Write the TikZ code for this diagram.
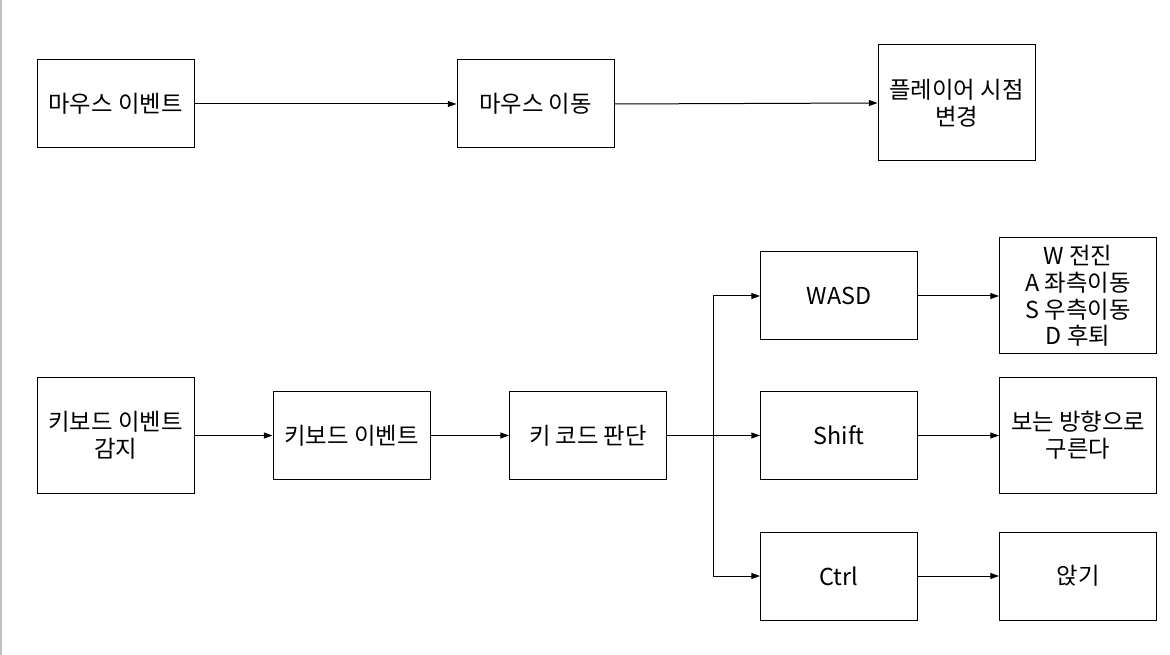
\documentclass[tikz,border=0pt]{standalone}
\usepackage{fontspec}
\setmainfont{Noto Sans CJK KR}
\usetikzlibrary{arrows.meta}
\tikzset{
  box/.style={draw, line width=0.75pt, minimum width=117.75pt, minimum height=66pt, align=center, inner sep=0pt, font=\fontsize{17.5pt}{20pt}\selectfont},
  tallbox/.style={box, minimum height=87pt},
  arr/.style={line width=0.75pt, -{Triangle[length=6.5pt,width=4.5pt]}}
}
\begin{document}
\begin{tikzpicture}[x=0.75pt,y=-0.75pt]
\useasboundingbox (0,0) rectangle (1170,655);
\draw[black!25, line width=1.5pt] (0.5,0) -- (0.5,655);
% top row
\node[box] (me) at (115.5,104) {마우스 이벤트};
\node[box] (mm) at (535.5,104) {마우스 이동};
\node[tallbox] (pv) at (956.5,103) {플레이어 시점\\변경};
\draw[arr] (me.east) -- (mm.west);
\draw[arr] (mm.east) -- (pv.west);
% bottom row
\node[tallbox] (kd) at (115.5,435.5) {키보드 이벤트\\감지};
\node[box] (ke) at (351.5,435.5) {키보드 이벤트};
\node[box] (kc) at (588,435.5) {키 코드 판단};
\node[box] (wasd) at (839,296) {WASD};
\node[box] (shift) at (839,435.5) {Shift};
\node[box] (ctrl) at (839,576) {Ctrl};
\node[tallbox] (wo) at (1078,296) {W 전진\\A 좌측이동\\S 우측이동\\D 후퇴};
\node[tallbox] (so) at (1078,435.5) {보는 방향으로\\구른다};
\node[box] (co) at (1078,576) {앉기};
\coordinate (br) at (713,435.5);
\draw[arr] (kd.east) -- (ke.west);
\draw[arr] (ke.east) -- (kc.west);
\draw[arr] (kc.east) -- (shift.west);
\draw[arr] (br) |- (wasd.west);
\draw[arr] (br) |- (ctrl.west);
\draw[arr] (wasd.east) -- (wo.west);
\draw[arr] (shift.east) -- (so.west);
\draw[arr] (ctrl.east) -- (co.west);
\end{tikzpicture}
\end{document}
